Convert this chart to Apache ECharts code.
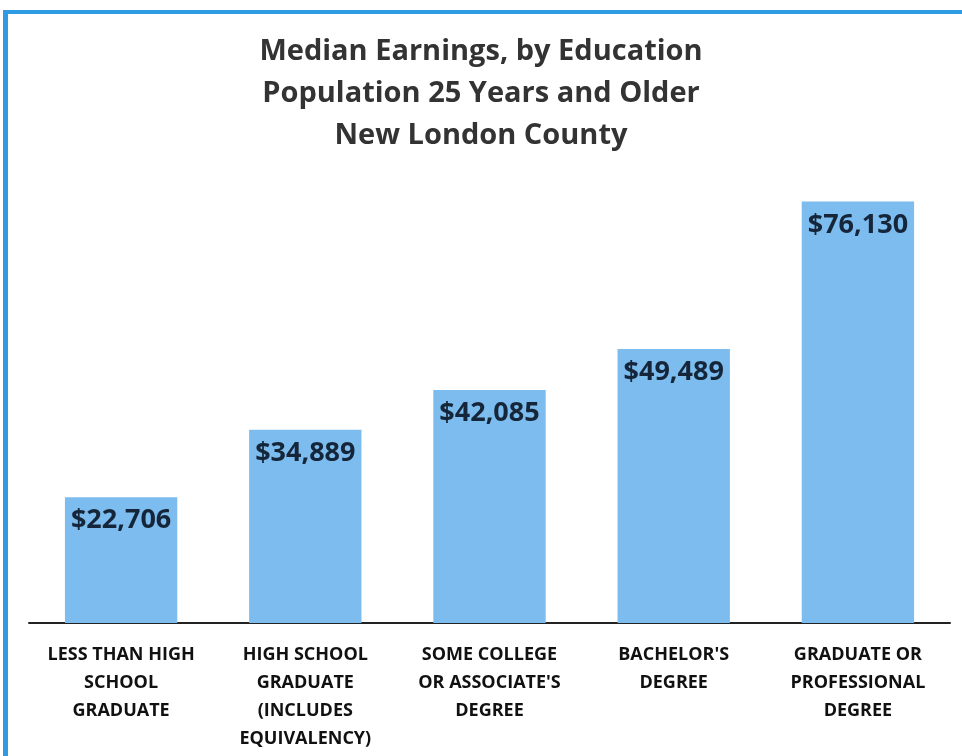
<!DOCTYPE html>
<html>
<head>
<meta charset="utf-8">
<style>
  html, body { margin: 0; padding: 0; background: #fff; }
  #chart { width: 962px; height: 756px; }
</style>
<script src="https://cdn.jsdelivr.net/npm/echarts@6/dist/echarts.min.js"></script>
</head>
<body>
<div id="chart"></div>
<script>
const categories = [
  'LESS THAN HIGH\nSCHOOL\nGRADUATE',
  'HIGH SCHOOL\nGRADUATE\n(INCLUDES\nEQUIVALENCY)',
  'SOME COLLEGE\nOR ASSOCIATE\'S\nDEGREE',
  'BACHELOR\'S\nDEGREE',
  'GRADUATE OR\nPROFESSIONAL\nDEGREE'
];
const earnings = [22706, 34889, 42085, 49489, 76130];
const titleLines = [
  'Median Earnings, by Education',
  'Population 25 Years and Older',
  'New London County'
];

const chart = echarts.init(document.getElementById('chart'));

chart.setOption({
  animation: false,
  backgroundColor: '#ffffff',
  title: {
    text: titleLines.join('\n'),
    left: 'center',
    top: 26,
    textStyle: {
      fontFamily: 'Open Sans',
      fontWeight: 'bold',
      fontSize: 29,
      lineHeight: 42,
      color: '#333333'
    }
  },
  graphic: [
    // blue frame on top and left edge
    { type: 'rect', shape: { x: 3, y: 10, width: 959, height: 4 }, style: { fill: '#2f9be3' } },
    { type: 'rect', shape: { x: 3, y: 10, width: 5, height: 746 }, style: { fill: '#2f9be3' } }
  ],
  grid: {
    left: 29,
    right: 12,
    top: 180,
    bottom: 133
  },
  xAxis: {
    type: 'category',
    data: categories,
    axisTick: { show: false },
    axisLine: { lineStyle: { color: '#222222', width: 2 } },
    axisLabel: {
      interval: 0,
      margin: 18,
      fontFamily: 'Open Sans',
      fontWeight: 'bold',
      fontSize: 18,
      lineHeight: 28,
      color: '#111111'
    }
  },
  yAxis: {
    type: 'value',
    min: 0,
    max: 80000,
    show: false,
    splitLine: { show: false }
  },
  series: [{
    type: 'bar',
    data: earnings,
    barWidth: '61%',
    itemStyle: { color: '#7dbcee' },
    label: {
      show: true,
      position: 'insideTop',
      distance: 10,
      fontFamily: 'Open Sans',
      fontWeight: 'bold',
      fontSize: 27,
      color: '#16263a',
      formatter: p => '$' + p.value.toLocaleString('en-US')
    }
  }]
});
</script>
</body>
</html>
